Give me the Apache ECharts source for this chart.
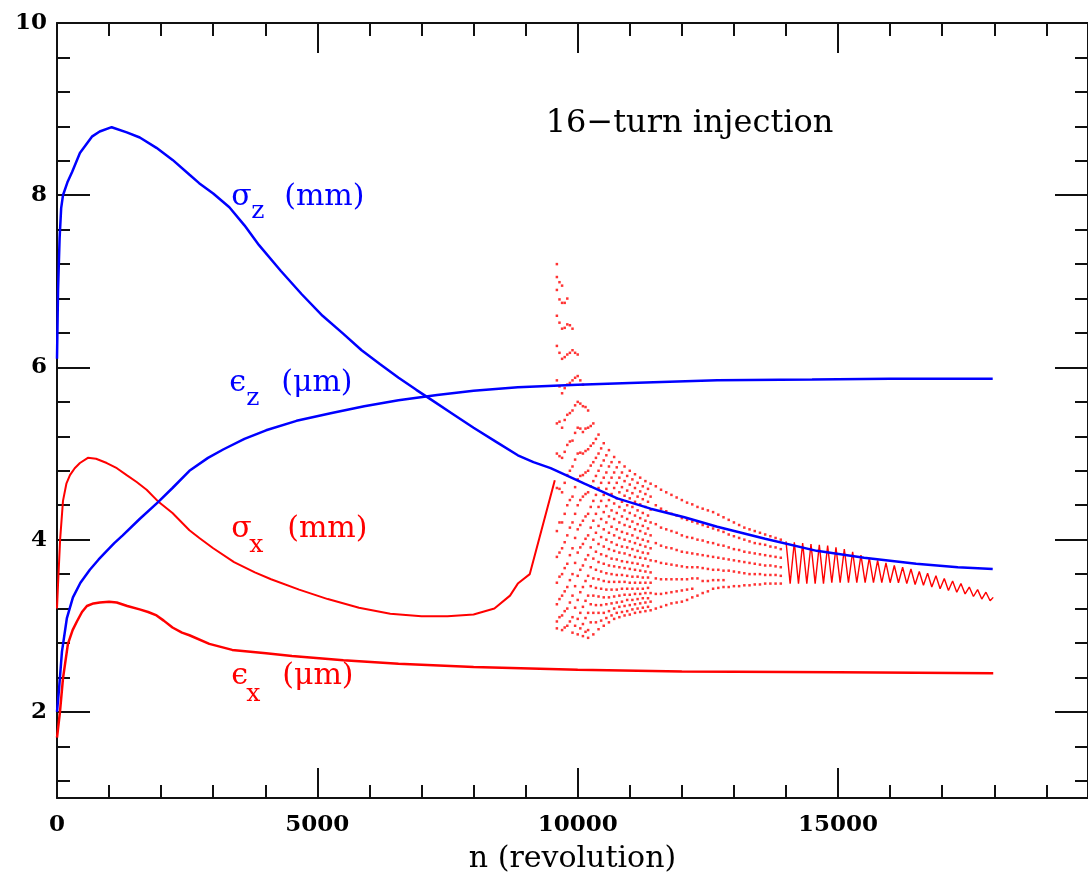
<!DOCTYPE html>
<html>
<head>
<meta charset="utf-8">
<script src="https://cdn.jsdelivr.net/npm/echarts@6/dist/echarts.min.js"></script>
<style>
  html, body { margin: 0; padding: 0; background: #fff; }
  #chart { width: 1088px; height: 882px; }
</style>
</head>
<body>
<div id="chart"></div>
<script>
// Bunch sizes and emittances versus revolution number n
const sigmaZ_n = [0, 20, 50, 80, 115, 200, 290, 440, 670, 820, 1050, 1340, 1590, 1910, 2220, 2540, 2730, 3000, 3310, 3600, 3880, 4300, 4700, 5100, 5500, 5850, 6200, 6560, 6900, 7200, 7600, 8000, 8450, 8850, 9150, 9480, 10130, 10760, 11400, 12050, 12680, 13600, 14590, 15500, 16500, 17300, 17970];
const sigmaZ   = [6.1, 6.9, 7.5, 7.85, 8.0, 8.15, 8.27, 8.49, 8.68, 8.74, 8.79, 8.73, 8.67, 8.55, 8.41, 8.24, 8.14, 8.02, 7.86, 7.65, 7.42, 7.12, 6.85, 6.6, 6.39, 6.2, 6.04, 5.88, 5.74, 5.62, 5.46, 5.3, 5.13, 4.98, 4.9, 4.83, 4.65, 4.48, 4.36, 4.26, 4.15, 4.01, 3.87, 3.79, 3.72, 3.68, 3.66];

const epsZ_n = [0, 40, 95, 190, 306, 450, 631, 800, 956, 1100, 1262, 1587, 1931, 2218, 2543, 2900, 3200, 3600, 4015, 4600, 5277, 5900, 6558, 7300, 8000, 8850, 10000, 11000, 12680, 14500, 16000, 17970];
const epsZ   = [2.0, 2.27, 2.7, 3.09, 3.33, 3.5, 3.65, 3.77, 3.87, 3.96, 4.05, 4.24, 4.43, 4.6, 4.8, 4.95, 5.05, 5.17, 5.27, 5.38, 5.47, 5.55, 5.62, 5.68, 5.73, 5.77, 5.8, 5.82, 5.85, 5.86, 5.87, 5.87];

const sigmaX_n = [0, 19, 60, 115, 180, 249, 340, 440, 593, 750, 956, 1150, 1338, 1530, 1721, 1931, 2218, 2543, 2734, 3000, 3400, 3800, 4111, 4650, 5200, 5800, 6400, 7000, 7500, 8000, 8400, 8700, 8850, 9080, 9300, 9560];
const sigmaX   = [3.2, 3.47, 4.0, 4.45, 4.65, 4.75, 4.83, 4.89, 4.95, 4.94, 4.89, 4.83, 4.75, 4.67, 4.58, 4.45, 4.31, 4.11, 4.02, 3.9, 3.74, 3.62, 3.54, 3.42, 3.31, 3.21, 3.14, 3.11, 3.11, 3.13, 3.2, 3.35, 3.49, 3.6, 4.1, 4.69];

// sampled sigma_x after the kick: one row per revolution, [n, values...]
const sigmaX_samples = [
  [9600, 7.2, 7.05, 6.9, 6.6, 6.25, 5.85, 5.35, 5.0, 4.6, 4.1, 3.8, 3.5, 3.25, 3.05, 2.97],
  [9650, 6.99, 6.79, 6.52, 6.17, 5.78, 5.37, 4.97, 4.59, 4.2, 3.85, 3.57, 3.31, 3.1],
  [9700, 6.95, 6.75, 6.45, 6.1, 5.7, 5.3, 4.95, 4.55, 4.2, 3.9, 3.6, 3.35, 3.12, 2.95],
  [9750, 6.75, 6.46, 6.12, 5.76, 5.39, 5.02, 4.66, 4.3, 3.97, 3.67, 3.4, 3.17, 2.98],
  [9800, 6.8, 6.5, 6.15, 5.8, 5.45, 5.1, 4.75, 4.4, 4.05, 3.72, 3.45, 3.2, 3.0],
  [9850, 6.49, 6.17, 5.82, 5.47, 5.14, 4.8, 4.46, 4.14, 3.82, 3.53, 3.27, 3.05],
  [9900, 6.45, 6.2, 5.85, 5.5, 5.15, 4.85, 4.5, 4.2, 3.9, 3.6, 3.35, 3.1, 2.92],
  [9950, 6.17, 5.88, 5.56, 5.24, 4.93, 4.61, 4.3, 4.02, 3.73, 3.46, 3.21, 3.0],
  [10000, 6.15, 5.9, 5.6, 5.3, 5.0, 4.7, 4.4, 4.12, 3.85, 3.58, 3.3, 3.08, 2.9],
  [10050, 5.85, 5.58, 5.29, 5.01, 4.74, 4.46, 4.17, 3.91, 3.65, 3.39, 3.15, 2.97],
  [10100, 5.8, 5.55, 5.25, 5.0, 4.75, 4.5, 4.22, 3.95, 3.7, 3.45, 3.22, 3.02, 2.88],
  [10150, 5.54, 5.29, 5.03, 4.78, 4.53, 4.27, 4.01, 3.77, 3.52, 3.29, 3.09, 2.93],
  [10200, 5.5, 5.3, 5.05, 4.8, 4.55, 4.3, 4.05, 3.82, 3.58, 3.35, 3.15, 2.95, 2.86],
  [10250, 5.32, 5.09, 4.86, 4.62, 4.38, 4.14, 3.91, 3.68, 3.46, 3.25, 3.04],
  [10300, 5.35, 5.12, 4.9, 4.68, 4.45, 4.22, 4.0, 3.78, 3.55, 3.35, 3.15, 2.9],
  [10350, 5.17, 4.95, 4.74, 4.52, 4.3, 4.08, 3.86, 3.65, 3.44, 3.24, 3.04],
  [10400, 5.22, 5.0, 4.8, 4.6, 4.38, 4.16, 3.95, 3.74, 3.54, 3.34, 3.15, 2.96],
  [10450, 5.06, 4.86, 4.66, 4.45, 4.24, 4.03, 3.83, 3.63, 3.43, 3.24, 3.06],
  [10500, 5.12, 4.92, 4.72, 4.52, 4.32, 4.12, 3.92, 3.72, 3.52, 3.33, 3.15, 3.0],
  [10550, 4.98, 4.78, 4.59, 4.39, 4.2, 4.0, 3.81, 3.61, 3.42, 3.25, 3.09],
  [10600, 5.04, 4.85, 4.66, 4.46, 4.27, 4.08, 3.89, 3.7, 3.51, 3.33, 3.17, 3.04],
  [10650, 4.9, 4.72, 4.53, 4.34, 4.15, 3.97, 3.78, 3.6, 3.42, 3.26, 3.12],
  [10700, 4.96, 4.78, 4.6, 4.42, 4.24, 4.05, 3.87, 3.69, 3.51, 3.34, 3.2, 3.08],
  [10750, 4.84, 4.66, 4.48, 4.31, 4.12, 3.94, 3.77, 3.59, 3.42, 3.27, 3.15],
  [10800, 4.9, 4.72, 4.55, 4.38, 4.2, 4.02, 3.85, 3.68, 3.51, 3.35, 3.22, 3.1],
  [10850, 4.78, 4.61, 4.44, 4.27, 4.09, 3.92, 3.75, 3.59, 3.43, 3.28, 3.16],
  [10900, 4.85, 4.68, 4.51, 4.34, 4.17, 4.0, 3.84, 3.67, 3.51, 3.36, 3.23, 3.12],
  [10950, 4.74, 4.57, 4.4, 4.24, 4.07, 3.91, 3.74, 3.58, 3.43, 3.3, 3.17],
  [11000, 4.8, 4.64, 4.48, 4.31, 4.15, 3.98, 3.82, 3.66, 3.5, 3.36, 3.24, 3.13],
  [11050, 4.7, 4.54, 4.38, 4.21, 4.05, 3.89, 3.73, 3.57, 3.43, 3.3, 3.19],
  [11100, 4.76, 4.6, 4.44, 4.28, 4.12, 3.96, 3.8, 3.65, 3.5, 3.37, 3.25, 3.15],
  [11150, 4.66, 4.5, 4.34, 4.18, 4.02, 3.87, 3.72, 3.57, 3.43, 3.31, 3.2],
  [11200, 4.72, 4.56, 4.41, 4.25, 4.1, 3.94, 3.79, 3.64, 3.5, 3.37, 3.26, 3.16],
  [11250, 4.62, 4.47, 4.31, 4.16, 4.0, 3.85, 3.7, 3.56, 3.43, 3.32, 3.21],
  [11300, 4.68, 4.53, 4.38, 4.22, 4.07, 3.92, 3.78, 3.63, 3.5, 3.38, 3.27, 3.17],
  [11350, 4.59, 4.44, 4.28, 4.13, 3.98, 3.84, 3.69, 3.56, 3.44, 3.32, 3.22],
  [11400, 4.65, 4.5, 4.35, 4.2, 4.05, 3.9, 3.76, 3.62, 3.5, 3.38, 3.28, 3.18],
  [11500, 4.62, 4.40, 4.18, 3.96, 3.75, 3.55, 3.37, 3.20],
  [11600, 4.58, 4.36, 4.14, 3.93, 3.73, 3.54, 3.37, 3.22],
  [11700, 4.55, 4.33, 4.12, 3.91, 3.72, 3.54, 3.38, 3.24],
  [11800, 4.52, 4.30, 4.10, 3.90, 3.71, 3.54, 3.39, 3.26],
  [11900, 4.49, 4.28, 4.08, 3.88, 3.70, 3.54, 3.40, 3.27],
  [12000, 4.46, 4.25, 4.05, 3.86, 3.69, 3.54, 3.41, 3.28],
  [12100, 4.43, 4.23, 4.03, 3.85, 3.68, 3.54, 3.42, 3.30],
  [12200, 4.41, 4.21, 4.02, 3.84, 3.68, 3.55, 3.43, 3.33],
  [12300, 4.38, 4.19, 4.00, 3.83, 3.68, 3.55, 3.35],
  [12400, 4.36, 4.17, 3.99, 3.82, 3.67, 3.52, 3.38],
  [12500, 4.34, 4.15, 3.97, 3.81, 3.66, 3.52, 3.40],
  [12600, 4.32, 4.13, 3.96, 3.80, 3.65, 3.53, 3.43],
  [12700, 4.29, 4.11, 3.94, 3.79, 3.65, 3.53, 3.44],
  [12800, 4.26, 4.09, 3.93, 3.78, 3.64, 3.53, 3.45],
  [12900, 4.23, 4.06, 3.91, 3.77, 3.64, 3.45],
  [13000, 4.20, 4.04, 3.89, 3.76, 3.63, 3.46],
  [13100, 4.17, 4.02, 3.88, 3.75, 3.62, 3.46],
  [13200, 4.14, 4.00, 3.86, 3.74, 3.61, 3.47],
  [13300, 4.12, 3.98, 3.85, 3.73, 3.60, 3.47],
  [13400, 4.10, 3.96, 3.84, 3.72, 3.60, 3.48],
  [13500, 4.08, 3.95, 3.83, 3.71, 3.60, 3.48],
  [13600, 4.06, 3.94, 3.82, 3.70, 3.59, 3.49],
  [13700, 4.04, 3.92, 3.81, 3.70, 3.59, 3.49],
  [13800, 4.02, 3.91, 3.80, 3.69, 3.59, 3.49],
  [13900, 4.00, 3.89, 3.79, 3.68, 3.58, 3.49]
];

// residual sigma_x oscillation towards the end of the run
const sigmaXTail_n = [14000, 14080, 14160, 14240, 14320, 14400, 14480, 14560, 14640, 14720, 14800, 14880, 14960, 15040, 15120, 15200, 15280, 15360, 15440, 15520, 15600, 15680, 15760, 15840, 15920, 16000, 16080, 16160, 16240, 16320, 16400, 16480, 16560, 16640, 16720, 16800, 16880, 16960, 17040, 17120, 17200, 17280, 17360, 17440, 17520, 17600, 17680, 17760, 17840, 17920, 17980];
const sigmaXTail   = [3.98, 3.49, 3.97, 3.49, 3.96, 3.49, 3.95, 3.49, 3.94, 3.49, 3.93, 3.50, 3.91, 3.50, 3.89, 3.50, 3.86, 3.50, 3.82, 3.50, 3.79, 3.50, 3.76, 3.50, 3.73, 3.50, 3.70, 3.50, 3.68, 3.49, 3.66, 3.48, 3.63, 3.47, 3.61, 3.45, 3.58, 3.43, 3.55, 3.41, 3.52, 3.39, 3.49, 3.37, 3.45, 3.34, 3.42, 3.31, 3.39, 3.29, 3.33];

const epsX_n = [0, 57, 115, 210, 300, 382, 480, 574, 700, 822, 1000, 1147, 1350, 1587, 1750, 1912, 2050, 2218, 2400, 2543, 2925, 3365, 4015, 4512, 5500, 6558, 8000, 10000, 12000, 15000, 17980];
const epsX   = [1.7, 2.0, 2.39, 2.79, 2.95, 3.05, 3.16, 3.23, 3.26, 3.27, 3.28, 3.27, 3.23, 3.19, 3.16, 3.12, 3.06, 2.98, 2.92, 2.89, 2.79, 2.72, 2.68, 2.65, 2.6, 2.56, 2.52, 2.49, 2.47, 2.46, 2.45];

// axis ticks
const xMajor = [0, 5000, 10000, 15000];
const xMinor = [1000, 2000, 3000, 4000, 6000, 7000, 8000, 9000, 11000, 12000, 13000, 14000, 16000, 17000, 18000, 19000];
const yMajor = [2, 4, 6, 8, 10];
const yMinor = [1.2, 1.6, 2.4, 2.8, 3.2, 3.6, 4.4, 4.8, 5.2, 5.6, 6.4, 6.8, 7.2, 7.6, 8.4, 8.8, 9.2, 9.6];

const X_MAX = 19800, Y_MIN = 1, Y_MAX = 10;
const FONT = 'DejaVu Serif';
const BLUE = '#0000ff', RED = '#ff0000', INK = '#111';

const zip = (xs, ys) => xs.map((x, i) => [x, ys[i]]);
const samplePoints = [];
sigmaX_samples.forEach(row => {
  for (let k = 1; k < row.length; k++) samplePoints.push([row[0], row[k]]);
});

// frame axes: a major-tick axis and a minor-tick axis on every side
function axisDef(position, min, max, ticks, len, labelMargin, withLabels) {
  return {
    type: 'value', position: position, min: min, max: max,
    axisLine: { show: withLabels !== null, onZero: false, lineStyle: { color: INK, width: 2 } },
    axisTick: { show: true, inside: true, length: len, customValues: ticks, lineStyle: { color: INK, width: 2 } },
    axisLabel: withLabels ? {
      show: true, customValues: ticks, margin: labelMargin, color: '#000',
      fontFamily: FONT, fontWeight: 'bold', fontSize: 23, formatter: v => String(v)
    } : { show: false },
    splitLine: { show: false }
  };
}

const xBottom = axisDef('bottom', 0, X_MAX, xMajor, 30, 16, true);
xBottom.name = 'n (revolution)';
xBottom.nameLocation = 'middle';
xBottom.nameGap = 46;
xBottom.nameTextStyle = { fontFamily: FONT, fontSize: 30, color: '#000' };

const chart = echarts.init(document.getElementById('chart'));
chart.setOption({
  animation: false,
  backgroundColor: '#fff',
  grid: { left: 57, top: 23, width: 1036, height: 775, containLabel: false },
  xAxis: [
    xBottom,
    axisDef('bottom', 0, X_MAX, xMinor, 13, 0, null),
    axisDef('top', 0, X_MAX, xMajor, 30, 0, false),
    axisDef('top', 0, X_MAX, xMinor, 13, 0, null)
  ],
  yAxis: [
    axisDef('left', Y_MIN, Y_MAX, yMajor, 33, 10, true),
    axisDef('left', Y_MIN, Y_MAX, yMinor, 13, 0, null),
    axisDef('right', Y_MIN, Y_MAX, yMajor, 33, 0, false),
    axisDef('right', Y_MIN, Y_MAX, yMinor, 13, 0, null)
  ],
  series: [
    { name: 'sigma_z', type: 'line', data: zip(sigmaZ_n, sigmaZ), showSymbol: false,
      lineStyle: { color: BLUE, width: 2.5 }, z: 3 },
    { name: 'eps_z', type: 'line', data: zip(epsZ_n, epsZ), showSymbol: false,
      lineStyle: { color: BLUE, width: 2.5 }, z: 3 },
    { name: 'sigma_x', type: 'line', data: zip(sigmaX_n, sigmaX), showSymbol: false,
      lineStyle: { color: RED, width: 2 }, z: 2 },
    { name: 'sigma_x samples', type: 'scatter', data: samplePoints, symbol: 'rect', symbolSize: 2.5,
      itemStyle: { color: RED }, z: 2 },
    { name: 'sigma_x tail', type: 'line', data: zip(sigmaXTail_n, sigmaXTail), showSymbol: false,
      lineStyle: { color: RED, width: 1.4 }, z: 2 },
    { name: 'eps_x', type: 'line', data: zip(epsX_n, epsX), showSymbol: false,
      lineStyle: { color: RED, width: 2.5 }, z: 2 }
  ]
});

// curve labels anchored at data positions: [n, value] is the baseline-left of the symbol
const curveLabels = [
  { at: [3345, 7.86], sym: 'σ', sub: 'z', unit: '(mm)', subDx: 20, subDy: 13, unitDx: 53, color: BLUE },
  { at: [3307, 5.70], sym: 'ϵ', sub: 'z', unit: '(μm)', subDx: 17, subDy: 14, unitDx: 52, color: BLUE },
  { at: [3345, 4.00], sym: 'σ', sub: 'x', unit: '(mm)', subDx: 18, subDy: 15, unitDx: 56, color: RED },
  { at: [3345, 2.29], sym: 'ϵ', sub: 'x', unit: '(μm)', subDx: 15, subDy: 16, unitDx: 51, color: RED }
];
const titleAt = [9385, 8.70];

const graphics = [];
const mid = (size) => size * 0.35;
curveLabels.forEach(l => {
  const p = chart.convertToPixel({ gridIndex: 0 }, l.at);
  const base = { fontFamily: FONT, fill: l.color, verticalAlign: 'middle', align: 'left' };
  graphics.push({ type: 'group', x: p[0], y: p[1], children: [
    { type: 'text', x: 0, y: -mid(30), style: Object.assign({ text: l.sym, fontSize: 30 }, base) },
    { type: 'text', x: l.subDx, y: l.subDy - mid(25), style: Object.assign({ text: l.sub, fontSize: 25 }, base) },
    { type: 'text', x: l.unitDx, y: -mid(30), style: Object.assign({ text: l.unit, fontSize: 30 }, base) }
  ]});
});
const tp = chart.convertToPixel({ gridIndex: 0 }, titleAt);
graphics.push({ type: 'text', x: tp[0], y: tp[1] - mid(32),
  style: { text: '16−turn injection', fontFamily: FONT, fontSize: 32, fill: '#000', verticalAlign: 'middle', align: 'left' } });

chart.setOption({ graphic: graphics });
</script>
</body>
</html>
